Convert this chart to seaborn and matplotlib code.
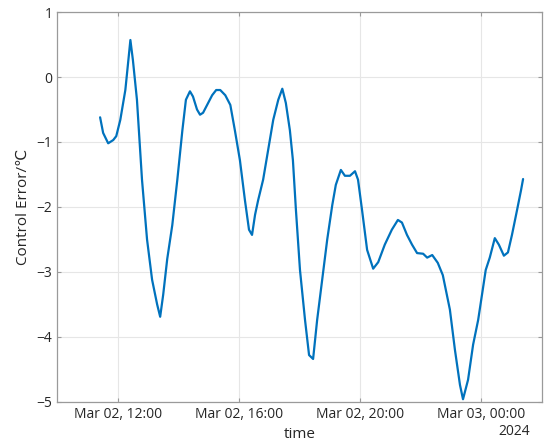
import pandas as pd
import matplotlib.pyplot as plt
import matplotlib.dates as mdates
import seaborn as sns

# Control error samples
times = [
    '2024-03-02 11:25', '2024-03-02 11:31', '2024-03-02 11:41', '2024-03-02 11:51',
    '2024-03-02 11:57', '2024-03-02 12:05', '2024-03-02 12:15', '2024-03-02 12:21',
    '2024-03-02 12:25', '2024-03-02 12:30', '2024-03-02 12:38', '2024-03-02 12:48',
    '2024-03-02 12:58', '2024-03-02 13:08', '2024-03-02 13:18', '2024-03-02 13:24',
    '2024-03-02 13:30', '2024-03-02 13:38', '2024-03-02 13:48', '2024-03-02 13:58',
    '2024-03-02 14:08', '2024-03-02 14:15', '2024-03-02 14:23', '2024-03-02 14:29',
    '2024-03-02 14:37', '2024-03-02 14:43', '2024-03-02 14:49', '2024-03-02 14:57',
    '2024-03-02 15:07', '2024-03-02 15:15', '2024-03-02 15:23', '2024-03-02 15:33',
    '2024-03-02 15:43', '2024-03-02 15:52', '2024-03-02 16:02', '2024-03-02 16:12',
    '2024-03-02 16:20', '2024-03-02 16:26', '2024-03-02 16:32', '2024-03-02 16:38',
    '2024-03-02 16:48', '2024-03-02 16:58', '2024-03-02 17:08', '2024-03-02 17:18',
    '2024-03-02 17:26', '2024-03-02 17:33', '2024-03-02 17:41', '2024-03-02 17:47',
    '2024-03-02 17:53', '2024-03-02 18:01', '2024-03-02 18:11', '2024-03-02 18:19',
    '2024-03-02 18:27', '2024-03-02 18:35', '2024-03-02 18:45', '2024-03-02 18:55',
    '2024-03-02 19:05', '2024-03-02 19:12', '2024-03-02 19:22', '2024-03-02 19:30',
    '2024-03-02 19:40', '2024-03-02 19:50', '2024-03-02 19:56', '2024-03-02 20:04',
    '2024-03-02 20:14', '2024-03-02 20:26', '2024-03-02 20:36', '2024-03-02 20:49',
    '2024-03-02 21:03', '2024-03-02 21:15', '2024-03-02 21:23', '2024-03-02 21:33',
    '2024-03-02 21:43', '2024-03-02 21:53', '2024-03-02 22:05', '2024-03-02 22:13',
    '2024-03-02 22:23', '2024-03-02 22:34', '2024-03-02 22:44', '2024-03-02 22:58',
    '2024-03-02 23:08', '2024-03-02 23:18', '2024-03-02 23:24', '2024-03-02 23:34',
    '2024-03-02 23:44', '2024-03-02 23:54', '2024-03-03 00:03', '2024-03-03 00:09',
    '2024-03-03 00:17', '2024-03-03 00:27', '2024-03-03 00:35', '2024-03-03 00:45',
    '2024-03-03 00:53', '2024-03-03 01:01', '2024-03-03 01:11', '2024-03-03 01:19',
    '2024-03-03 01:23',
]
errors = [
    -0.62, -0.86, -1.02, -0.97,
    -0.91, -0.66, -0.20, 0.26,
    0.57, 0.26, -0.35, -1.58,
    -2.50, -3.12, -3.50, -3.69,
    -3.35, -2.80, -2.28, -1.58,
    -0.82, -0.35, -0.22, -0.30,
    -0.50, -0.58, -0.55, -0.43,
    -0.28, -0.20, -0.20, -0.28,
    -0.43, -0.82, -1.28, -1.90,
    -2.35, -2.43, -2.12, -1.90,
    -1.58, -1.12, -0.66, -0.35,
    -0.18, -0.40, -0.82, -1.28,
    -2.05, -2.97, -3.74, -4.28,
    -4.34, -3.74, -3.12, -2.50,
    -1.97, -1.66, -1.43, -1.52,
    -1.52, -1.45, -1.58, -2.05,
    -2.66, -2.95, -2.85, -2.58,
    -2.35, -2.20, -2.24, -2.43,
    -2.58, -2.71, -2.72, -2.78,
    -2.74, -2.86, -3.05, -3.58,
    -4.20, -4.74, -4.96, -4.66,
    -4.12, -3.74, -3.28, -2.97,
    -2.78, -2.48, -2.58, -2.75,
    -2.70, -2.43, -2.05, -1.74,
    -1.57,
]

df = pd.DataFrame({'time': pd.to_datetime(times), 'error': errors})

sns.set_style('whitegrid')
plt.rcParams['font.family'] = ['Open Sans', 'DejaVu Sans']

fig, ax = plt.subplots(figsize=(5.5, 4.47), dpi=100)
sns.lineplot(data=df, x='time', y='error', color='#0072BD', linewidth=1.6, ax=ax)

ax.set_xlim(pd.Timestamp('2024-03-02 10:00'), pd.Timestamp('2024-03-03 02:00'))
ax.set_ylim(-5, 1)
ax.set_yticks([1, 0, -1, -2, -3, -4, -5])
ax.xaxis.set_major_locator(mdates.HourLocator(byhour=[0, 12, 16, 20]))
ax.xaxis.set_major_formatter(mdates.DateFormatter('%b %d, %H:%M'))

ax.grid(True, color='#e6e6e6', linewidth=0.8)
for s in ax.spines.values():
    s.set_visible(True)
    s.set_color('#9a9a9a')
    s.set_linewidth(0.9)
ax.tick_params(direction='in', length=3, color='#9a9a9a', labelsize=10,
               labelcolor='#262626', top=True, right=True, left=True, bottom=True)

ax.set_xlabel('time', fontsize=11, color='#262626', labelpad=4)
ax.set_ylabel('Control Error/℃', fontsize=11, color='#262626')
ax.text(0.976, -0.058, '2024', transform=ax.transAxes, ha='right', va='top',
        fontsize=10, color='#262626')

fig.subplots_adjust(left=0.104, right=0.985, top=0.973, bottom=0.101)
fig.savefig('out.png', dpi=100)
